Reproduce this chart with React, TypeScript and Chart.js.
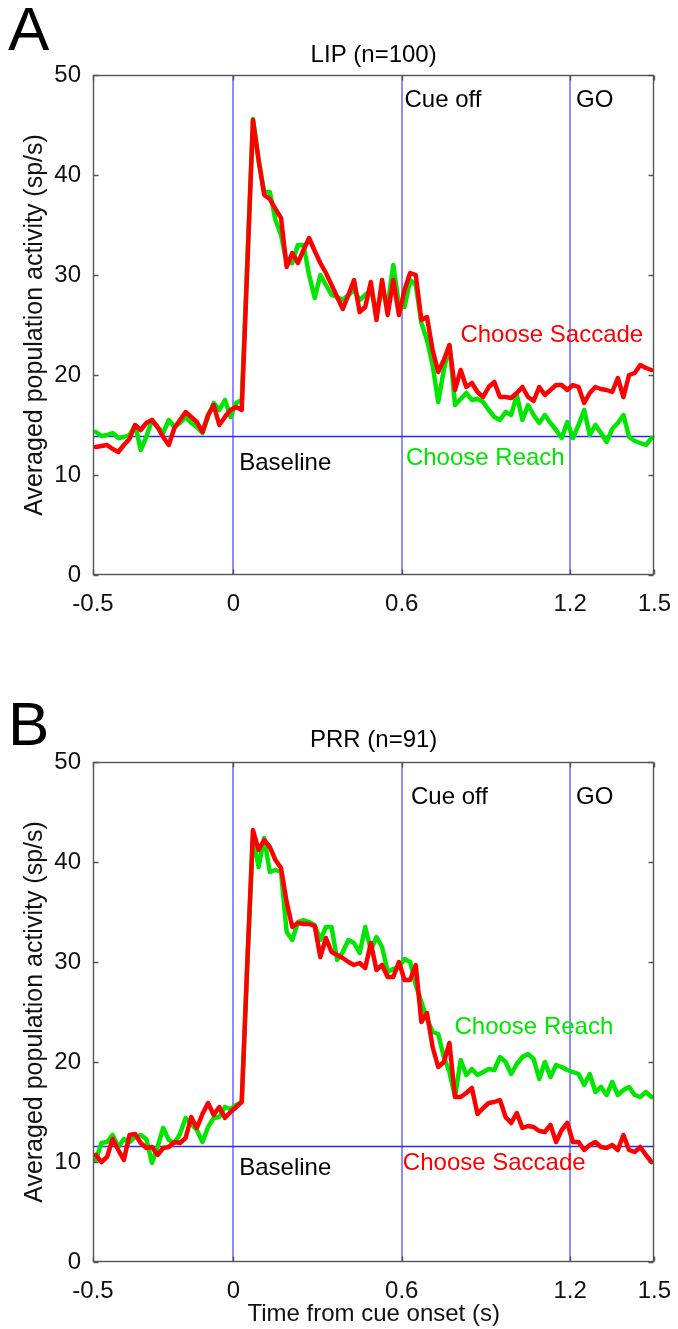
import React, { useEffect, useRef } from "react";
import { Chart, registerables } from "chart.js";

Chart.register(...registerables);

const FONT = "'Liberation Sans', Arial, Helvetica, sans-serif";

// Bin centres (s), 20 ms bins
const timeBins = [
  -0.49, -0.47, -0.45, -0.43, -0.41, -0.39, -0.37, -0.35, -0.33, -0.31,
  -0.29, -0.27, -0.25, -0.23, -0.21, -0.19, -0.17, -0.15, -0.13, -0.11,
  -0.09, -0.07, -0.05, -0.03, -0.01, 0.01, 0.03, 0.05, 0.07, 0.09,
  0.11, 0.13, 0.15, 0.17, 0.19, 0.21, 0.23, 0.25, 0.27, 0.29,
  0.31, 0.33, 0.35, 0.37, 0.39, 0.41, 0.43, 0.45, 0.47, 0.49,
  0.51, 0.53, 0.55, 0.57, 0.59, 0.61, 0.63, 0.65, 0.67, 0.69,
  0.71, 0.73, 0.75, 0.77, 0.79, 0.81, 0.83, 0.85, 0.87, 0.89,
  0.91, 0.93, 0.95, 0.97, 0.99, 1.01, 1.03, 1.05, 1.07, 1.09,
  1.11, 1.13, 1.15, 1.17, 1.19, 1.21, 1.23, 1.25, 1.27, 1.29,
  1.31, 1.33, 1.35, 1.37, 1.39, 1.41, 1.43, 1.45, 1.47, 1.49,
];

// Panel A: LIP
const lipSaccade = [
  12.8, 12.9, 13.0, 12.6, 12.3, 13.0, 13.6, 15.0, 14.5, 15.2,
  15.5, 14.8, 13.8, 13.0, 14.7, 15.5, 16.3, 15.8, 15.3, 14.3,
  16.0, 17.0, 15.0, 15.8, 16.5, 16.8, 16.5, 31.0, 45.5, 41.5,
  38.0, 37.6, 36.6, 35.7, 30.8, 32.2, 31.2, 32.5, 33.7, 32.4,
  31.2, 30.2, 29.0, 27.8, 26.6, 28.0, 29.5, 26.3, 26.8, 29.3,
  25.5, 29.5, 26.0, 29.5, 26.0, 28.5, 30.2, 30.0, 25.5, 25.8,
  22.5, 20.3, 21.5, 23.0, 18.5, 20.5, 18.8, 19.2, 18.3, 17.8,
  18.8, 19.3, 17.8, 17.8, 17.7, 18.2, 18.8, 17.8, 17.4, 18.8,
  18.0, 18.5, 19.0, 19.0, 18.5, 19.0, 18.8, 17.2, 18.2, 18.8,
  18.6, 18.5, 18.3, 19.7, 17.8, 20.0, 20.2, 21.0, 20.7, 20.5,
];
const lipReach = [
  14.3, 13.9, 14.0, 14.2, 13.7, 13.8, 14.0, 15.0, 12.5, 13.8,
  15.5, 14.8, 14.2, 15.5, 14.8, 15.2, 15.8, 15.2, 14.8, 14.2,
  15.8, 17.2, 16.5, 17.5, 15.8, 17.2, 17.5, 31.5, 45.6, 41.5,
  38.3, 38.3, 35.5, 34.0, 31.2, 31.2, 33.0, 33.0, 30.0, 27.7,
  30.0, 29.0, 28.0, 27.8, 27.5, 28.0, 28.5, 27.5, 28.0, 28.5,
  26.3, 28.5, 27.0, 31.0, 27.0, 26.8, 29.5, 29.0, 25.2, 23.5,
  21.0, 17.3, 20.5, 23.0, 17.0, 17.6, 18.2, 17.5, 17.6, 17.3,
  16.5, 15.8, 15.5, 16.3, 16.0, 18.0, 15.5, 17.0, 16.0, 15.2,
  16.0, 15.2, 14.5, 13.7, 15.3, 13.7, 15.0, 16.5, 14.0, 15.0,
  14.2, 13.3, 14.6, 15.2, 16.0, 13.8, 13.4, 13.2, 13.0, 13.7,
];

// Panel B: PRR
const prrSaccade = [
  10.7, 10.0, 10.5, 12.3, 11.2, 10.2, 12.7, 12.8, 11.9, 11.4,
  11.5, 10.7, 11.4, 11.5, 12.0, 11.9, 12.4, 14.5, 13.4, 14.8,
  15.9, 14.7, 15.5, 14.4, 15.0, 15.5, 16.0, 30.0, 43.2, 41.2,
  42.2, 41.5, 40.2, 39.4, 36.0, 33.5, 33.9, 33.8, 33.8, 33.6,
  30.5, 32.4, 31.0, 30.7, 30.4, 30.0, 29.7, 29.9, 29.4, 31.9,
  29.2, 29.7, 28.5, 28.5, 30.0, 28.2, 28.2, 29.7, 24.0, 24.9,
  21.5, 19.5, 20.0, 21.9, 16.5, 16.5, 16.9, 17.4, 14.8, 15.4,
  15.9, 16.0, 16.2, 14.5, 13.9, 14.9, 13.4, 13.6, 13.5, 13.1,
  13.0, 13.7, 12.0, 13.2, 13.9, 12.0, 12.0, 11.2, 11.7, 12.0,
  11.5, 11.4, 11.7, 11.2, 12.7, 11.2, 11.0, 11.5, 10.7, 10.0,
];
const prrReach = [
  10.2, 11.9, 12.0, 12.7, 11.5, 12.3, 12.0, 12.5, 12.7, 12.3,
  9.9, 11.5, 13.4, 12.2, 11.9, 12.8, 14.4, 13.8, 13.2, 12.0,
  13.5, 14.4, 14.5, 15.5, 15.3, 15.7, 16.0, 30.0, 42.5, 39.5,
  42.4, 39.0, 39.2, 39.0, 33.0, 32.2, 34.0, 34.2, 34.0, 33.7,
  32.2, 33.5, 33.5, 30.2, 31.0, 32.2, 31.9, 30.9, 33.5, 31.2,
  32.5, 31.5, 29.0, 29.3, 29.5, 30.3, 30.0, 27.7, 26.0, 24.3,
  23.0, 22.8, 20.5, 19.0, 16.5, 20.2, 18.7, 19.3, 18.7, 19.0,
  19.3, 19.2, 20.5, 20.0, 18.8, 19.8, 20.5, 20.8, 20.3, 18.3,
  20.0, 18.5, 19.7, 19.5, 19.2, 19.0, 18.8, 17.7, 18.8, 17.0,
  17.5, 16.7, 18.0, 16.7, 17.2, 17.5, 16.7, 16.5, 17.0, 16.5,
];

const xTickValues = [-0.5, 0, 0.6, 1.2, 1.5];
const xTickLabels = ["-0.5", "0", "0.6", "1.2", "1.5"];
const yTickValues = [0, 10, 20, 30, 40, 50];
const eventTimes = [0, 0.6, 1.2];
const lipBaseline = 13.9;
const prrBaseline = 11.6;

type Note = { text: string; x: number; y: number; color: string };

const lipNotes: Note[] = [
  { text: "Cue off", x: 0.61, y: 47.5, color: "#000000" },
  { text: "GO", x: 1.221, y: 47.5, color: "#000000" },
  { text: "Baseline", x: 0.021, y: 11.2, color: "#000000" },
  { text: "Choose Saccade", x: 0.809, y: 24.0, color: "#ff0000" },
  { text: "Choose Reach", x: 0.615, y: 11.7, color: "#00e600" },
];
const prrNotes: Note[] = [
  { text: "Cue off", x: 0.633, y: 46.5, color: "#000000" },
  { text: "GO", x: 1.221, y: 46.5, color: "#000000" },
  { text: "Baseline", x: 0.021, y: 9.4, color: "#000000" },
  { text: "Choose Reach", x: 0.788, y: 23.5, color: "#00e600" },
  { text: "Choose Saccade", x: 0.604, y: 9.9, color: "#ff0000" },
];

type PanelSpec = {
  letter: string;
  title: string;
  saccade: number[];
  reach: number[];
  baseline: number;
  notes: Note[];
  canvasTop: number;
  canvasHeight: number;
  plotTop: number;
  titleY: number;
  letterBaseline: number;
  showXTitle: boolean;
};

const panels: PanelSpec[] = [
  {
    letter: "A",
    title: "LIP (n=100)",
    saccade: lipSaccade,
    reach: lipReach,
    baseline: lipBaseline,
    notes: lipNotes,
    canvasTop: 0,
    canvasHeight: 640,
    plotTop: 75,
    titleY: 55,
    letterBaseline: 50,
    showXTitle: false,
  },
  {
    letter: "B",
    title: "PRR (n=91)",
    saccade: prrSaccade,
    reach: prrReach,
    baseline: prrBaseline,
    notes: prrNotes,
    canvasTop: 640,
    canvasHeight: 689,
    plotTop: 122,
    titleY: 100,
    letterBaseline: 105,
    showXTitle: true,
  },
];

function Panel({ spec }: { spec: PanelSpec }) {
  const ref = useRef<HTMLCanvasElement>(null);

  useEffect(() => {
    const canvas = ref.current;
    if (!canvas) return;
    const plotBottom = spec.plotTop + 500;
    const xAxisHeight = spec.canvasHeight - plotBottom;

    const overlay = {
      id: "overlay",
      beforeDatasetsDraw(chart: any) {
        const { ctx, chartArea: a, scales } = chart;
        const xs = scales.x;
        const ys = scales.y;
        ctx.save();
        ctx.strokeStyle = "#1a1aff";
        ctx.lineWidth = 1;
        for (const t of eventTimes) {
          const px = Math.round(xs.getPixelForValue(t));
          ctx.beginPath();
          ctx.moveTo(px, a.top);
          ctx.lineTo(px, a.bottom);
          ctx.stroke();
        }
        ctx.strokeStyle = "#2a2aff";
        ctx.lineWidth = 1.4;
        const py = Math.round(ys.getPixelForValue(spec.baseline)) + 0.5;
        ctx.beginPath();
        ctx.moveTo(a.left, py);
        ctx.lineTo(a.right, py);
        ctx.stroke();
        ctx.restore();
      },
      afterDatasetsDraw(chart: any) {
        const { ctx, chartArea: a, scales } = chart;
        const xs = scales.x;
        const ys = scales.y;
        ctx.save();
        // frame
        ctx.strokeStyle = "#555555";
        ctx.lineWidth = 1.4;
        const L = Math.round(a.left) + 0.5;
        const R = Math.round(a.right) - 0.5;
        const T = Math.round(a.top) + 0.5;
        const B = Math.round(a.bottom) - 0.5;
        ctx.strokeRect(L, T, R - L, B - T);
        // inward ticks
        ctx.beginPath();
        for (const v of yTickValues) {
          const py = Math.round(ys.getPixelForValue(v)) + 0.5;
          ctx.moveTo(L, py);
          ctx.lineTo(L + 5, py);
          ctx.moveTo(R, py);
          ctx.lineTo(R - 5, py);
        }
        for (const v of xTickValues) {
          const px = Math.round(xs.getPixelForValue(v)) + 0.5;
          ctx.moveTo(px, B);
          ctx.lineTo(px, B - 5);
          ctx.moveTo(px, T);
          ctx.lineTo(px, T + 5);
        }
        ctx.stroke();

        // annotations
        ctx.font = `24px ${FONT}`;
        ctx.textAlign = "left";
        ctx.textBaseline = "middle";
        for (const n of spec.notes) {
          ctx.fillStyle = n.color;
          ctx.fillText(n.text, xs.getPixelForValue(n.x), ys.getPixelForValue(n.y));
        }
        // title
        ctx.fillStyle = "#000000";
        ctx.textAlign = "center";
        ctx.fillText(spec.title, (a.left + a.right) / 2, spec.titleY);
        // panel letter
        ctx.font = `62px ${FONT}`;
        ctx.textAlign = "left";
        ctx.textBaseline = "alphabetic";
        ctx.fillText(spec.letter, 8, spec.letterBaseline);
        ctx.restore();
      },
    };

    const tickFont = { size: 24, family: FONT };

    const chart = new Chart(canvas, {
      type: "line",
      data: {
        datasets: [
          {
            label: "Choose Saccade",
            data: timeBins.map((t, i) => ({ x: t, y: spec.saccade[i] })),
            borderColor: "#ff0000",
            backgroundColor: "#ff0000",
            borderWidth: 4.5,
            pointRadius: 0,
            tension: 0,
            fill: false,
            borderJoinStyle: "round",
            borderCapStyle: "round",
          },
          {
            label: "Choose Reach",
            data: timeBins.map((t, i) => ({ x: t, y: spec.reach[i] })),
            borderColor: "#00e600",
            backgroundColor: "#00e600",
            borderWidth: 4.5,
            pointRadius: 0,
            tension: 0,
            fill: false,
            borderJoinStyle: "round",
            borderCapStyle: "round",
          },
        ],
      },
      options: {
        responsive: false,
        animation: false,
        devicePixelRatio: 1,
        events: [],
        layout: { padding: { left: 0, right: 20, top: spec.plotTop, bottom: 0 } },
        plugins: {
          legend: { display: false },
          tooltip: { enabled: false },
          title: { display: false },
        },
        scales: {
          x: {
            type: "linear",
            min: -0.5,
            max: 1.5,
            grid: { display: false },
            border: { display: false },
            afterBuildTicks: (s: any) => {
              s.ticks = xTickValues.map((v) => ({ value: v }));
            },
            afterFit: (s: any) => {
              s.height = xAxisHeight;
            },
            ticks: {
              autoSkip: false,
              maxRotation: 0,
              minRotation: 0,
              padding: 7,
              color: "#111111",
              font: tickFont,
              callback: (_v: any, i: number) => xTickLabels[i],
            },
            title: {
              display: spec.showXTitle,
              text: "Time from cue onset (s)",
              color: "#111111",
              font: tickFont,
              padding: { top: 0, bottom: 0 },
            },
          },
          y: {
            type: "linear",
            min: 0,
            max: 50,
            grid: { display: false },
            border: { display: false },
            afterBuildTicks: (s: any) => {
              s.ticks = yTickValues.map((v) => ({ value: v }));
            },
            afterFit: (s: any) => {
              s.width = 93;
            },
            ticks: {
              padding: 4,
              color: "#111111",
              font: tickFont,
            },
            title: {
              display: true,
              text: "Averaged population activity (sp/s)",
              color: "#111111",
              font: { size: 25, family: FONT },
              padding: { top: 20, bottom: 0 },
            },
          },
        },
      },
      plugins: [overlay],
    } as any);

    return () => chart.destroy();
  }, [spec]);

  return (
    <canvas
      ref={ref}
      width={678}
      height={spec.canvasHeight}
      style={{ position: "absolute", left: 0, top: spec.canvasTop, display: "block" }}
    />
  );
}

export default function App() {
  return (
    <div
      style={{
        position: "absolute",
        left: 0,
        top: 0,
        width: 678,
        height: 1329,
        background: "#ffffff",
        overflow: "hidden",
      }}
    >
      {panels.map((p) => (
        <Panel key={p.letter} spec={p} />
      ))}
    </div>
  );
}
